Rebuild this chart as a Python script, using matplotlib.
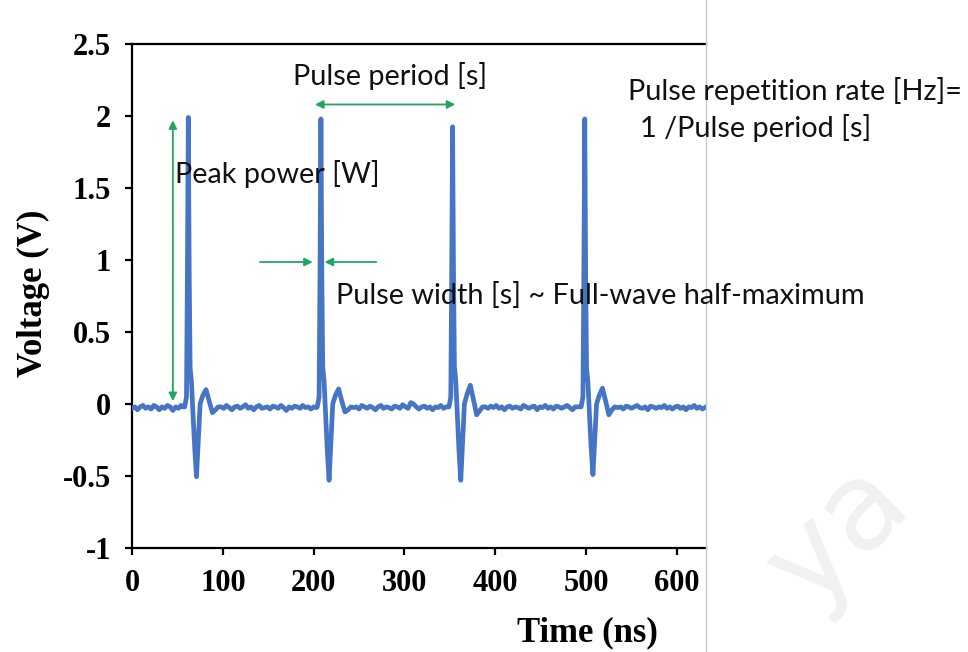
import matplotlib
matplotlib.use("Agg")
from matplotlib import pyplot as plt
from matplotlib.lines import Line2D

# oscilloscope trace (time in ns, voltage in V)
base0_t = [0, 3, 6, 9, 12, 15, 18, 21, 24, 27, 30, 33, 36, 39, 42, 45, 48, 51, 54, 56]
base0_v = [-0.03, -0.02, -0.04, -0.02, -0.01, -0.03, -0.02, -0.035, -0.01, -0.02,
           -0.04, -0.02, -0.03, -0.01, -0.02, -0.045, -0.02, -0.03, -0.01, -0.02]

pulse1_t = [58, 60, 61, 62, 63, 64, 65.5, 67, 69, 71, 73, 75, 78, 81.5, 85, 88.5, 92, 95]
pulse1_v = [-0.02, 0.05, 0.9, 1.99, 0.9, 0.25, 0.15, -0.05, -0.3, -0.505, -0.25, 0.0,
            0.06, 0.10, 0.02, -0.06, -0.04, -0.02]

base1_t = [98, 101, 104, 107, 110, 113, 116, 119, 122, 125, 128, 131, 134, 137, 140, 143,
           146, 149, 152, 155, 158, 161, 164, 167, 170, 173, 176, 179, 182, 185, 188, 191,
           194, 197, 200, 203]
base1_v = [-0.02, -0.03, -0.01, -0.025, -0.04, -0.02, -0.015, -0.03, -0.02, -0.005, -0.03,
           -0.02, -0.04, -0.02, -0.01, -0.03, -0.025, -0.02, -0.035, -0.015, -0.02, -0.03,
           -0.01, -0.025, -0.045, -0.02, -0.03, -0.015, -0.02, -0.03, -0.01, -0.025, -0.02,
           -0.035, -0.02, -0.025]

pulse2_t = [204, 206, 207, 208, 209, 210, 211.5, 213, 215, 217, 219, 221, 224, 227.5, 231,
            234.5, 238, 241]
pulse2_v = [-0.02, 0.05, 0.9, 1.98, 0.9, 0.26, 0.16, -0.05, -0.32, -0.53, -0.26, 0.0,
            0.06, 0.105, 0.02, -0.055, -0.04, -0.02]

base2_t = [244, 247, 250, 253, 256, 259, 262, 265, 268, 271, 274, 277, 280, 283, 286, 289,
           292, 295, 298, 301, 304, 307, 310, 313, 316, 319, 322, 325, 328, 331, 334, 337,
           340, 343, 346]
base2_v = [-0.025, -0.02, -0.035, -0.01, -0.02, -0.03, -0.015, -0.025, -0.04, -0.02, -0.01,
           -0.03, -0.02, -0.025, -0.035, -0.015, -0.02, -0.03, -0.005, -0.02, -0.03, 0.01,
           0.0, -0.02, -0.035, -0.02, -0.015, -0.03, -0.02, -0.04, -0.02, -0.025, -0.01,
           -0.03, -0.02]

pulse3_t = [349, 351, 352, 353, 354, 355, 356.5, 358, 360, 362, 364, 366, 369, 372.5, 376,
            379.5, 383, 386]
pulse3_v = [-0.02, 0.05, 0.9, 1.925, 0.9, 0.26, 0.16, -0.05, -0.32, -0.53, -0.26, 0.0,
            0.07, 0.13, 0.03, -0.075, -0.045, -0.02]

base3_t = [389, 392, 395, 398, 401, 404, 407, 410, 413, 416, 419, 422, 425, 428, 431, 434,
           437, 440, 443, 446, 449, 452, 455, 458, 461, 464, 467, 470, 473, 476, 479, 482,
           485, 488, 491]
base3_v = [-0.02, -0.03, -0.015, -0.025, -0.01, -0.03, -0.02, -0.04, -0.02, -0.015, -0.03,
           -0.02, -0.025, -0.035, -0.01, -0.02, -0.03, -0.02, -0.015, -0.04, -0.02, -0.025,
           -0.01, -0.03, -0.02, -0.035, -0.015, -0.02, -0.03, -0.02, -0.01, -0.025, -0.04,
           -0.02, -0.02]

pulse4_t = [494.5, 496.5, 497.5, 498.5, 499.5, 500.5, 502, 503.5, 505.5, 507.5, 509.5,
            511.5, 514.5, 518, 521.5, 525, 528.5, 531.5]
pulse4_v = [-0.02, 0.05, 0.9, 1.98, 0.9, 0.25, 0.15, -0.05, -0.3, -0.49, -0.24, 0.0,
            0.06, 0.11, 0.02, -0.075, -0.04, -0.02]

base4_t = [535, 538, 541, 544, 547, 550, 553, 556, 559, 562, 565, 568, 571, 574, 577, 580,
           583, 586, 589, 592, 595, 598, 601, 604, 607, 610, 613, 616, 619, 622, 625, 628, 632]
base4_v = [-0.025, -0.02, -0.035, -0.015, -0.02, -0.03, -0.02, -0.01, -0.025, -0.03, -0.02,
           -0.04, -0.015, -0.02, -0.03, -0.02, -0.025, -0.01, -0.03, -0.02, -0.035, -0.02,
           -0.015, -0.03, -0.02, -0.04, -0.02, -0.025, -0.01, -0.03, -0.02, -0.035, -0.02]

x_ticks = [0, 100, 200, 300, 400, 500, 600]
y_ticks = [-1, -0.5, 0, 0.5, 1, 1.5, 2, 2.5]
y_tick_labels = ["-1", "-0.5", "0", "0.5", "1", "1.5", "2", "2.5"]

W, H = 968, 652


def px(x, y):
    # pixel position (from top-left) -> figure fraction
    return x / W, 1 - y / H


time = base0_t + pulse1_t + base1_t + pulse2_t + base2_t + pulse3_t + base3_t + pulse4_t + base4_t
volt = base0_v + pulse1_v + base1_v + pulse2_v + base2_v + pulse3_v + base3_v + pulse4_v + base4_v

fig = plt.figure(figsize=(W / 100, H / 100), dpi=100)
ax = fig.add_axes([132 / W, (H - 548) / H, (706 - 132) / W, (548 - 44) / H])

ax.plot(time, volt, color="#4575c4", lw=3.4, solid_joinstyle="round", zorder=3)
ax.set_xlim(0, 632)
ax.set_ylim(-1, 2.5)

ax.spines["right"].set_visible(False)
for side in ["left", "bottom", "top"]:
    ax.spines[side].set_linewidth(1.6)
ax.set_xticks(x_ticks)
ax.set_yticks(y_ticks)
ax.set_yticklabels(y_tick_labels)
ax.tick_params(direction="out", length=5, width=1.6, pad=10, top=False, right=False)
for lab in ax.get_xticklabels() + ax.get_yticklabels():
    lab.set_fontfamily("Liberation Serif")
    lab.set_fontweight("bold")
    lab.set_fontsize(22)

x0, y0 = px(33, 293)
fig.text(x0, y0, "Voltage (V)", rotation=90, ha="center", va="center",
         family="Liberation Serif", weight="bold", fontsize=25)
x0, y0 = px(587, 633)
fig.text(x0, y0, "Time (ns)", ha="center", va="center",
         family="Liberation Serif", weight="bold", fontsize=25)

# green annotation arrows
green = "#22a55f"
ax.annotate("", xy=(45, 1.97), xytext=(45, 0.02),
            arrowprops=dict(arrowstyle="<|-|>", color=green, lw=1.3, mutation_scale=12,
                            shrinkA=0, shrinkB=0))
ax.annotate("", xy=(356, 2.08), xytext=(201.5, 2.08),
            arrowprops=dict(arrowstyle="<|-|>", color=green, lw=1.3, mutation_scale=12,
                            shrinkA=0, shrinkB=0))
ax.annotate("", xy=(199, 0.986), xytext=(141, 0.986),
            arrowprops=dict(arrowstyle="-|>", color=green, lw=1.3, mutation_scale=12,
                            shrinkA=0, shrinkB=0))
ax.annotate("", xy=(212, 0.986), xytext=(269, 0.986),
            arrowprops=dict(arrowstyle="-|>", color=green, lw=1.3, mutation_scale=12,
                            shrinkA=0, shrinkB=0))

# annotation texts (placed in pixels, baseline)
notes = [
    (293, 85, "Pulse period [s]"),
    (628, 100, "Pulse repetition rate [Hz]="),
    (640, 137, "1 /Pulse period [s]"),
    (175, 183, "Peak power [W]"),
    (336, 304, "Pulse width [s] ~ Full-wave half-maximum"),
]
for xp, yp, txt in notes:
    x0, y0 = px(xp, yp)
    fig.text(x0, y0, txt, ha="left", va="baseline", family="Lato", fontsize=20.8,
             color="#111111", zorder=5)

# faint watermark (kept inside the figure) and the edge of the cropped plot
x0, y0 = px(838, 535)
fig.text(x0, y0, "ya", rotation=45, ha="center", va="center", family="DejaVu Sans",
         fontsize=88, color="#f1f1f1", zorder=0)
fig.add_artist(Line2D([706 / W, 706 / W], [0, 1], color="#c8c8c8", lw=1))

fig.savefig("out.png", dpi=100)
